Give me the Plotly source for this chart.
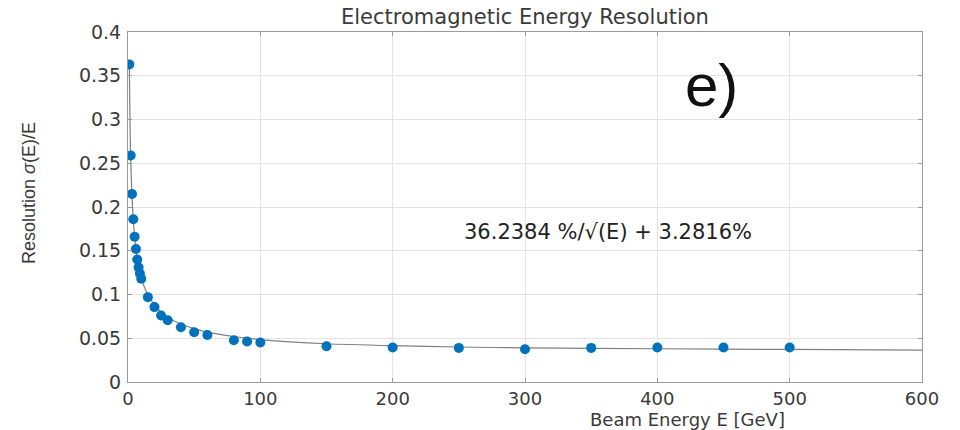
import plotly.graph_objects as go

# Measured points (beam energy in GeV, resolution sigma(E)/E)
energy = [1, 2, 3, 4, 5, 6, 7, 8, 9, 10, 15, 20, 25, 30, 40, 50, 60, 80, 90, 100,
          150, 200, 250, 300, 350, 400, 450, 500]
resolution = [0.363, 0.259, 0.215, 0.186, 0.166, 0.152, 0.140, 0.131, 0.124, 0.118,
              0.097, 0.0856, 0.076, 0.0705, 0.0625, 0.0568, 0.0538, 0.0477, 0.0462, 0.0451,
              0.0409, 0.0394, 0.039, 0.0375, 0.039, 0.0394, 0.0394, 0.0394]

# Fit curve
fit_energy = [1, 1.5, 2, 3, 4, 5, 6, 8, 10, 12, 15, 20, 25, 30, 40, 50, 60, 80, 100,
              150, 200, 250, 300, 400, 500, 600]
fit_res = [0.363, 0.297, 0.257, 0.212, 0.185, 0.166, 0.152, 0.133, 0.120, 0.110, 0.100,
           0.088, 0.080, 0.074, 0.066, 0.061, 0.057, 0.052, 0.0485, 0.0437, 0.0415,
           0.0400, 0.0390, 0.0380, 0.0372, 0.0365]

x_ticks = [0, 100, 200, 300, 400, 500, 600]
y_ticks = [0, 0.05, 0.1, 0.15, 0.2, 0.25, 0.3, 0.35, 0.4]
y_tick_text = ["0", "0.05", "0.1", "0.15", "0.2", "0.25", "0.3", "0.35", "0.4"]

title_text = "Electromagnetic Energy Resolution"
x_title = "Beam Energy E [GeV]"
y_title = "Resolution <i>σ</i>(E)/E"
fit_label = "36.2384 %/√(E) + 3.2816%"
panel_label = "e)"

FONT = "DejaVu Sans"
TXT = "#3a3a3a"

fig = go.Figure()
fig.add_trace(go.Scatter(x=fit_energy, y=fit_res, mode="lines",
                         line=dict(color="#7f7f7f", width=1.2, shape="spline", smoothing=0.6),
                         hoverinfo="skip", showlegend=False))
fig.add_trace(go.Scatter(x=energy, y=resolution, mode="markers",
                         marker=dict(color="#0072BD", size=10, line=dict(width=0)),
                         showlegend=False))

axis_common = dict(showgrid=True, gridcolor="#e3e3e3", gridwidth=1,
                   showline=True, linecolor="#9a9a9a", linewidth=1, mirror="ticks",
                   ticks="inside", ticklen=4, tickcolor="#9a9a9a", zeroline=False)

fig.update_xaxes(range=[0, 600], tickvals=x_ticks, ticklabelstandoff=0,
                 tickfont=dict(family=FONT, size=18, color=TXT), **axis_common)
fig.update_yaxes(range=[0, 0.4], tickvals=y_ticks, ticktext=y_tick_text, ticklabelstandoff=2,
                 tickfont=dict(family=FONT, size=19, color=TXT), **axis_common)

W, H = 960, 430
ML, MR, MT, MB = 128, 38, 32, 48
pw, ph = W - ML - MR, H - MT - MB

def px(xp):
    return (xp - ML) / pw

def py(yp):
    return (H - MB - yp) / ph

fig.update_layout(
    width=W, height=H,
    margin=dict(l=ML, r=MR, t=MT, b=MB),
    plot_bgcolor="white", paper_bgcolor="white",
    annotations=[
        dict(text=title_text, x=px(525), y=py(17), xref="paper", yref="paper",
             xanchor="center", yanchor="middle", showarrow=False,
             font=dict(family=FONT, size=21, color=TXT)),
        dict(text=x_title, x=px(687), y=py(432), xref="paper", yref="paper",
             xanchor="center", yanchor="bottom", showarrow=False,
             font=dict(family=FONT, size=18, color=TXT)),
        dict(text=y_title, x=px(29), y=py(193), xref="paper", yref="paper",
             xanchor="center", yanchor="middle", textangle=-90, showarrow=False,
             font=dict(family="Liberation Sans Narrow, Liberation Sans", size=18, color=TXT)),
        dict(text=fit_label, x=px(608), y=py(232), xref="paper", yref="paper",
             xanchor="center", yanchor="middle", showarrow=False,
             font=dict(family=FONT, size=21, color="#222222")),
        dict(text=panel_label, x=px(711), y=py(86), xref="paper", yref="paper",
             xanchor="center", yanchor="middle", showarrow=False,
             font=dict(family="Liberation Sans", size=60, color="#111111")),
    ],
)

fig.write_html("out.html", config={"displayModeBar": False},
               post_script="document.body.style.margin='0';")
